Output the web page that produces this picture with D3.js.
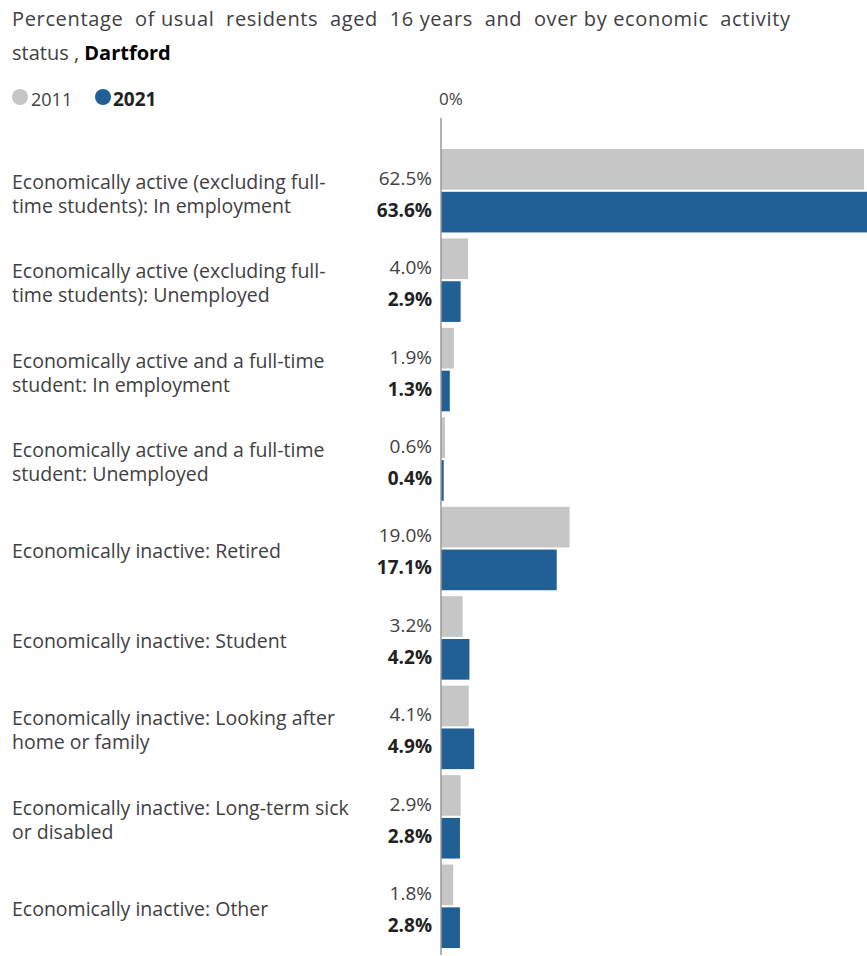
<!DOCTYPE html>
<html>
<head>
<meta charset="utf-8">
<script src="https://cdn.jsdelivr.net/npm/d3@7"></script>
<style>
  body { margin: 0; background: #fff; }
  text { font-family: "Open Sans", sans-serif; white-space: pre; }
</style>
</head>
<body>
<div id="chart"></div>
<script>
// economic activity status, Dartford - 2011 vs 2021
const categories = [
  ["Economically active (excluding full-", "time students): In employment"],
  ["Economically active (excluding full-", "time students): Unemployed"],
  ["Economically active and a full-time", "student: In employment"],
  ["Economically active and a full-time", "student: Unemployed"],
  ["Economically inactive: Retired"],
  ["Economically inactive: Student"],
  ["Economically inactive: Looking after", "home or family"],
  ["Economically inactive: Long-term sick", "or disabled"],
  ["Economically inactive: Other"]
];
const years = ["2011", "2021"];
const values2011 = [62.5, 4.0, 1.9, 0.6, 19.0, 3.2, 4.1, 2.9, 1.8];
const values2021 = [63.6, 2.9, 1.3, 0.4, 17.1, 4.2, 4.9, 2.8, 2.8];

const width = 867, height = 956;
const colors = { "2011": "#c6c6c6", "2021": "#206095" };
const textCol = "#414042";

const svg = d3.select('#chart').append('svg')
  .attr('width', width)
  .attr('height', height);

// title
const title = svg.append('g').attr('fill', textCol).attr('font-size', 20);
title.append('text').attr('x', 12).attr('y', 26)
  .attr('textLength', 778).attr('lengthAdjust', 'spacing')
  .text('Percentage  of usual  residents  aged  16 years  and  over by economic  activity');
const t2 = title.append('text').attr('x', 12).attr('y', 60);
t2.append('tspan').text('status , ');
t2.append('tspan').attr('font-weight', 'bold').attr('fill', '#000').text('Dartford');

// legend
const legend = svg.append('g').attr('font-size', 18);
[["2011", 20, 31, "normal"], ["2021", 103, 113, "bold"]].forEach(([yr, cx, tx, fw]) => {
  legend.append('circle').attr('cx', cx).attr('cy', 97).attr('r', 8).attr('fill', colors[yr]);
  legend.append('text').attr('x', tx).attr('y', 106).attr('fill', fw === 'bold' ? '#222' : textCol)
    .attr('font-weight', fw).attr('font-size', fw === 'bold' ? 19 : 18).text(yr);
});

const rows = categories.map((c, i) => ({ lines: c, i, v: { "2011": values2011[i], "2021": values2021[i] } }));

const x = d3.scaleLinear().domain([0, 62.5]).range([441, 864]);
const y = d3.scaleBand().domain(d3.range(categories.length)).range([145, 950]);
const yIn = d3.scaleBand().domain(years).range([4, y.bandwidth() - 2]).paddingInner(0.05);

svg.append('text').attr('x', x(0) + 10).attr('y', 105).attr('text-anchor', 'middle')
  .attr('font-size', 17).attr('fill', textCol).text('0%');

const g = svg.append('g').selectAll('g').data(rows).join('g')
  .attr('transform', d => `translate(0,${y(d.i)})`);

g.selectAll('rect').data(d => years.map(yr => ({ yr, v: d.v[yr] }))).join('rect')
  .attr('x', x(0))
  .attr('y', d => yIn(d.yr))
  .attr('height', yIn.bandwidth())
  .attr('width', d => Math.min(x(d.v), width) - x(0))
  .attr('fill', d => colors[d.yr]);

const mid = y.bandwidth() / 2;

g.selectAll('text.val').data(d => years.map(yr => ({ yr, v: d.v[yr] }))).join('text')
  .attr('class', 'val')
  .attr('x', 432)
  .attr('y', d => d.yr === "2011" ? mid - 5 : mid + 27)
  .attr('text-anchor', 'end')
  .attr('font-size', 19)
  .attr('font-weight', d => d.yr === "2021" ? 'bold' : 'normal')
  .attr('fill', d => d.yr === "2021" ? '#222' : textCol)
  .text(d => d.v.toFixed(1) + '%');

g.each(function (d) {
  const n = d.lines.length;
  const t = d3.select(this).append('text')
    .attr('font-size', 19.5).attr('fill', textCol);
  d.lines.forEach((ln, k) => {
    t.append('tspan').attr('x', 12)
      .attr('y', mid + 11 + (k - (n - 1) / 2) * 24)
      .text(ln);
  });
});

// axis line
svg.append('line')
  .attr('x1', x(0)).attr('x2', x(0))
  .attr('y1', 118).attr('y2', 955)
  .attr('stroke', '#999').attr('stroke-width', 1.5);
</script>
</body>
</html>
